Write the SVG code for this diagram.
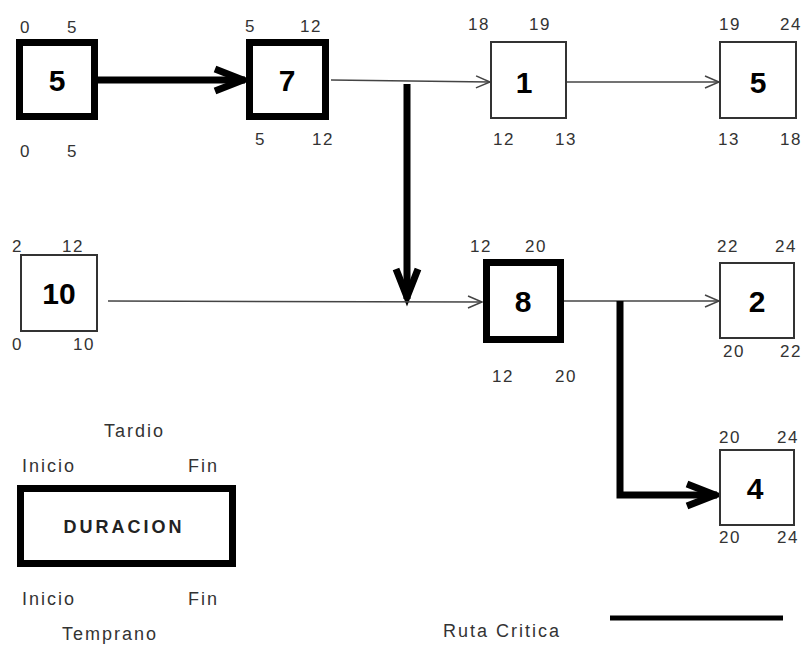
<svg xmlns="http://www.w3.org/2000/svg" width="805" height="650" viewBox="0 0 805 650">
<style>
.box-thin{fill:#fff;stroke:#333;stroke-width:2}
.box-thick{fill:#fff;stroke:#000;stroke-width:7}
.dur{font-family:"Liberation Sans",Arial,sans-serif;font-weight:bold;font-size:30px;fill:#000;text-anchor:middle}
.lbl{font-family:"Liberation Sans",Arial,sans-serif;font-size:17px;fill:#333;letter-spacing:1.5px}
.word{font-family:"Liberation Sans",Arial,sans-serif;font-size:18px;fill:#333;letter-spacing:2px}
.thin{fill:none;stroke:#444;stroke-width:1.5}
.thick{fill:none;stroke:#000;stroke-width:7}
</style>
<defs>
<marker id="ah-thin" markerUnits="userSpaceOnUse" markerWidth="20" markerHeight="16" viewBox="-16 -8 20 16" refX="0" refY="0" orient="auto">
<path d="M -14 -6 L 0 0 L -14 6" fill="none" stroke="#444" stroke-width="1.5"/>
</marker>
<marker id="ah-thick" markerUnits="userSpaceOnUse" markerWidth="44" markerHeight="36" viewBox="-36 -18 44 36" refX="0" refY="0" orient="auto">
<path d="M -30 -11 L -2 0 L -30 11" fill="none" stroke="#000" stroke-width="7" stroke-linejoin="miter"/>
</marker>
</defs>
<rect width="805" height="650" fill="#fff"/>
<g id="connectors">
<line class="thick" x1="98" y1="80" x2="245" y2="80" marker-end="url(#ah-thick)"/>
<line class="thin" x1="331" y1="80" x2="490" y2="82" marker-end="url(#ah-thin)"/>
<line class="thin" x1="566" y1="82" x2="719" y2="82" marker-end="url(#ah-thin)"/>
<line class="thick" x1="407" y1="84" x2="407" y2="299" marker-end="url(#ah-thick)"/>
<line class="thin" x1="108" y1="301" x2="482" y2="302" marker-end="url(#ah-thin)"/>
<line class="thin" x1="564" y1="301" x2="719" y2="301" marker-end="url(#ah-thin)"/>
<path class="thick" d="M 620 301 L 620 495 L 717 495" marker-end="url(#ah-thick)"/>
</g>
<g id="nodeA">
<rect class="box-thick" x="19.5" y="42.5" width="75" height="74"/>
<text class="dur" x="57" y="91">5</text>
<text class="lbl" x="20" y="33">0</text><text class="lbl" x="67" y="33">5</text>
<text class="lbl" x="20" y="157">0</text><text class="lbl" x="67" y="157">5</text>
</g>
<g id="nodeB">
<rect class="box-thick" x="249.5" y="42.5" width="76" height="74"/>
<text class="dur" x="287" y="91">7</text>
<text class="lbl" x="245" y="32">5</text><text class="lbl" x="300" y="32">12</text>
<text class="lbl" x="255" y="145">5</text><text class="lbl" x="312" y="145">12</text>
</g>
<g id="nodeC">
<rect class="box-thin" x="491" y="42" width="75" height="76"/>
<text class="dur" x="524" y="93">1</text>
<text class="lbl" x="468" y="30">18</text><text class="lbl" x="529" y="30">19</text>
<text class="lbl" x="493" y="145">12</text><text class="lbl" x="555" y="145">13</text>
</g>
<g id="nodeD">
<rect class="box-thin" x="720" y="42" width="76" height="76"/>
<text class="dur" x="758" y="93">5</text>
<text class="lbl" x="719" y="30">19</text><text class="lbl" x="780" y="30">24</text>
<text class="lbl" x="718" y="145">13</text><text class="lbl" x="780" y="145">18</text>
</g>
<g id="nodeE">
<rect class="box-thin" x="21" y="255" width="76" height="76"/>
<text class="dur" x="59" y="304">10</text>
<text class="lbl" x="12" y="252">2</text><text class="lbl" x="62" y="252">12</text>
<text class="lbl" x="12" y="350">0</text><text class="lbl" x="73" y="350">10</text>
</g>
<g id="nodeF">
<rect class="box-thick" x="486.5" y="262.5" width="74" height="77"/>
<text class="dur" x="523" y="312">8</text>
<text class="lbl" x="470" y="252">12</text><text class="lbl" x="525" y="252">20</text>
<text class="lbl" x="492" y="382">12</text><text class="lbl" x="555" y="382">20</text>
</g>
<g id="nodeG">
<rect class="box-thin" x="720" y="263" width="74" height="75"/>
<text class="dur" x="757" y="312">2</text>
<text class="lbl" x="717" y="252">22</text><text class="lbl" x="775" y="252">24</text>
<text class="lbl" x="723" y="357">20</text><text class="lbl" x="780" y="357">22</text>
</g>
<g id="nodeH">
<rect class="box-thin" x="720" y="450" width="74" height="75"/>
<text class="dur" x="755" y="499">4</text>
<text class="lbl" x="719" y="443">20</text><text class="lbl" x="777" y="443">24</text>
<text class="lbl" x="719" y="543">20</text><text class="lbl" x="777" y="543">24</text>
</g>
<g id="legend">
<text class="word" x="104" y="437">Tardio</text>
<text class="word" x="22" y="472" letter-spacing="2.3">Inicio</text>
<text class="word" x="188" y="472" letter-spacing="1.7">Fin</text>
<rect class="box-thick" x="20.5" y="488.5" width="212" height="75"/>
<text x="124" y="533" font-family="'Liberation Sans',Arial,sans-serif" font-weight="bold" font-size="18" fill="#222" text-anchor="middle" letter-spacing="3">DURACION</text>
<text class="word" x="22" y="605" letter-spacing="2.3">Inicio</text>
<text class="word" x="188" y="605" letter-spacing="1.7">Fin</text>
<text class="word" x="62" y="640" letter-spacing="4.2">Temprano</text>
<text class="word" x="443" y="637" letter-spacing="3">Ruta Critica</text>
<line x1="610" y1="618" x2="783" y2="618" stroke="#000" stroke-width="5"/>
</g>
</svg>
